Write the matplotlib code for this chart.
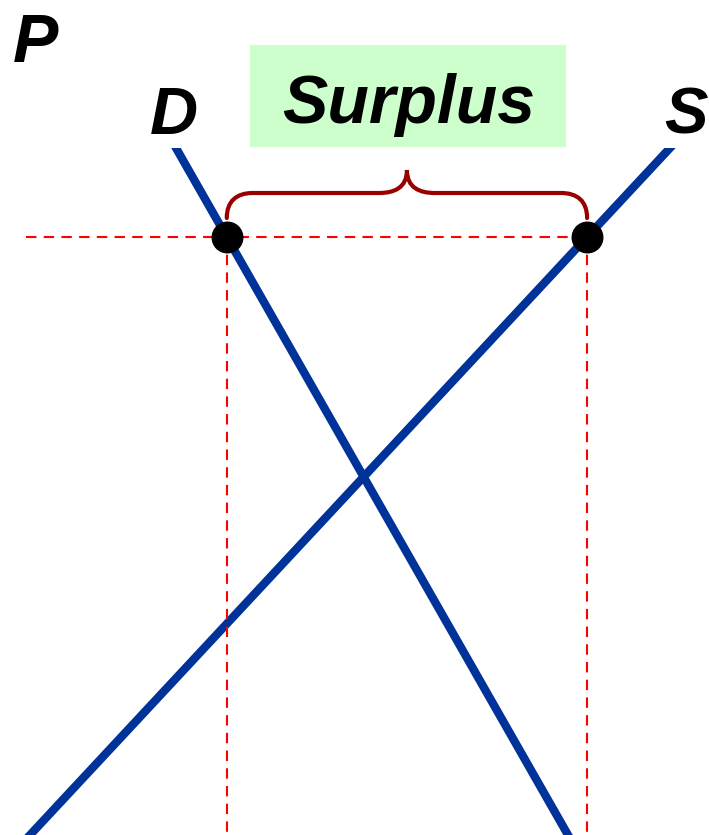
import numpy as np
import matplotlib.pyplot as plt
from matplotlib.path import Path
from matplotlib.patches import PathPatch, Rectangle

# Demand and supply lines (quantity, price), price measured up from the bottom
demand_q = [176, 568]
demand_p = [687, 0]
supply_q = [30, 670]
supply_p = [0, 687]
floor_price = 598          # price set above equilibrium
axis_start = 26            # where the price guide starts on the left

blue = '#003399'
red = '#ff0000'
brace_red = '#990000'

# quantities demanded / supplied at the floor price
q_dem = np.interp(floor_price, demand_p[::-1], demand_q[::-1])
q_sup = np.interp(floor_price, supply_p, supply_q)

fig = plt.figure(figsize=(7.09, 8.35), dpi=100)
ax = fig.add_axes([0, 0, 1, 1])
ax.set_xlim(0, 709)
ax.set_ylim(0, 835)
ax.axis('off')

# curves, cut flat at the top like the original
clip = Rectangle((0, 0), 709, max(demand_p), transform=ax.transData)
for q, p in [(demand_q, demand_p), (supply_q, supply_p)]:
    ln, = ax.plot(q, p, color=blue, linewidth=6, solid_capstyle='projecting', zorder=2)
    ln.set_clip_path(clip)

# dashed guides
ax.plot([axis_start, q_sup], [floor_price, floor_price], color=red, linewidth=1.5,
        dashes=(5, 3.5), zorder=3)
ax.plot([q_dem, q_dem], [floor_price, 0], color=red, linewidth=1.5, dashes=(5, 3.5), zorder=3)
ax.plot([q_sup, q_sup], [floor_price, 0], color=red, linewidth=1.5, dashes=(5, 3.5), zorder=3)

# points on the curves
ax.plot([q_dem, q_sup], [floor_price, floor_price], 'o', color='black', markersize=22, zorder=4)

# curly brace over the surplus
mid = (q_dem + q_sup) / 2
lo, hi, peak = floor_price + 19, floor_price + 44, floor_price + 67
verts = [
    (q_dem, lo), (q_dem, hi - 8), (q_dem + 10, hi), (q_dem + 26, hi),
    (mid - 28, hi),
    (mid - 13, hi), (mid, hi + 5), (mid, peak),
    (mid, hi + 5), (mid + 13, hi), (mid + 28, hi),
    (q_sup - 26, hi),
    (q_sup - 10, hi), (q_sup, hi - 8), (q_sup, lo),
]
codes = [Path.MOVETO, Path.CURVE4, Path.CURVE4, Path.CURVE4,
         Path.LINETO,
         Path.CURVE4, Path.CURVE4, Path.CURVE4,
         Path.CURVE4, Path.CURVE4, Path.CURVE4,
         Path.LINETO,
         Path.CURVE4, Path.CURVE4, Path.CURVE4]
ax.add_patch(PathPatch(Path(verts, codes), facecolor='none', edgecolor=brace_red,
                       linewidth=3, capstyle='round', zorder=3))

# label box
ax.add_patch(Rectangle((250, 688), 316, 102, facecolor='#ccffcc', edgecolor='none', zorder=1))
txt = dict(family='Liberation Sans', fontweight='bold', fontstyle='italic', color='black',
           ha='center', va='baseline')
ax.text(409, 712, 'Surplus', fontsize=49, **txt)
ax.text(35, 773, 'P', fontsize=49, **txt)
ax.text(174, 701, 'D', fontsize=48, **txt)
ax.text(686, 702, 'S', fontsize=47, **txt)

fig.savefig('out.png', dpi=100)
